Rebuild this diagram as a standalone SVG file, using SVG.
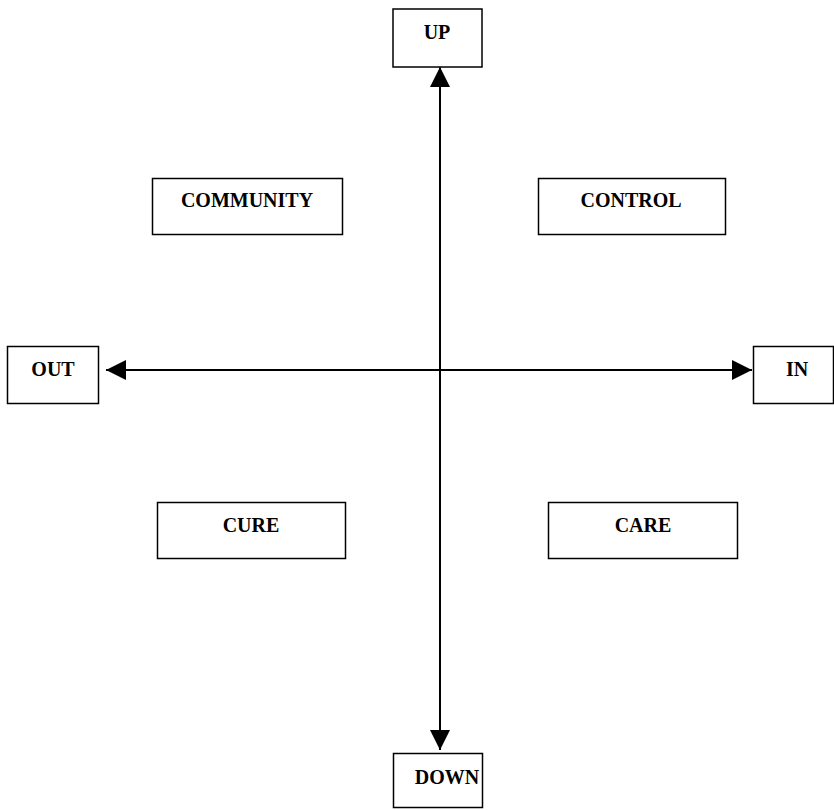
<svg xmlns="http://www.w3.org/2000/svg" width="834" height="810" viewBox="0 0 834 810">
<style>
.box{fill:#fff;stroke:#000;stroke-width:1.5}
.lbl{font-family:"Liberation Serif","Times New Roman",serif;font-weight:bold;font-size:20px;text-anchor:middle;fill:#000}
.axis{stroke:#000;stroke-width:2;fill:none}
</style>
<defs>
<marker id="ah" markerUnits="userSpaceOnUse" markerWidth="20" markerHeight="20" viewBox="0 0 20 20" refX="20" refY="10" orient="auto-start-reverse">
<path d="M0,0 L20,10 L0,20 z" fill="#000"/>
</marker>
</defs>
<rect width="834" height="810" fill="#fff"/>
<g id="connectors">
<line class="axis" x1="440" y1="67" x2="440" y2="750" marker-start="url(#ah)" marker-end="url(#ah)"/>
<line class="axis" x1="106" y1="370" x2="752" y2="370" marker-start="url(#ah)" marker-end="url(#ah)"/>
</g>
<g id="up"><rect class="box" x="393" y="9" width="89" height="58"/><text class="lbl" x="437" y="39">UP</text></g>
<g id="community"><rect class="box" x="152.5" y="178.5" width="190" height="56"/><text class="lbl" x="247" y="207">COMMUNITY</text></g>
<g id="control"><rect class="box" x="538.5" y="178.5" width="187" height="56"/><text class="lbl" x="631" y="207">CONTROL</text></g>
<g id="out"><rect class="box" x="7.5" y="346.5" width="91" height="57"/><text class="lbl" x="53" y="376">OUT</text></g>
<g id="in"><rect class="box" x="753.5" y="346.5" width="80" height="57"/><text class="lbl" x="797" y="376">IN</text></g>
<g id="cure"><rect class="box" x="157.5" y="502.5" width="188" height="56"/><text class="lbl" x="251" y="532">CURE</text></g>
<g id="care"><rect class="box" x="548.5" y="502.5" width="189" height="56"/><text class="lbl" x="643" y="532">CARE</text></g>
<g id="down"><rect class="box" x="393.5" y="753.5" width="89" height="54"/><text class="lbl" x="447" y="784">DOWN</text></g>
</svg>
